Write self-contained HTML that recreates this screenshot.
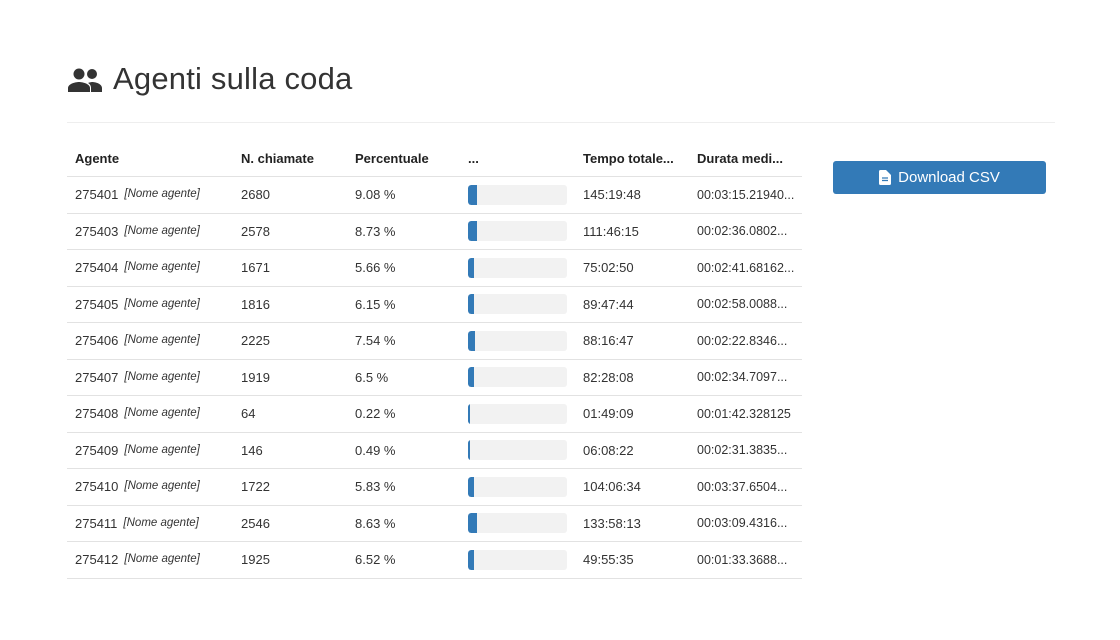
<!DOCTYPE html>
<html><head><meta charset="utf-8"><style>
body{margin:0;width:1120px;height:640px;background:#fff;font-family:"Liberation Sans",sans-serif;color:#333;position:relative;overflow:hidden}
.abs{position:absolute}
h1{position:absolute;left:113px;top:61px;margin:0;font-size:31px;font-weight:normal;color:#333;letter-spacing:0.2px}
.hr{left:67px;top:122px;width:988px;height:1px;background:#eee}
table{position:absolute;left:67px;top:140px;border-collapse:collapse;font-size:13px;table-layout:fixed;width:735px}
th{text-align:left;font-weight:bold;height:36px;padding:0 0 0 8px;color:#222;border-bottom:1px solid #e2e2e2;vertical-align:middle;white-space:nowrap;overflow:hidden}
td{height:35.5px;padding:0 0 0 8px;border-bottom:1px solid #e2e2e2;color:#333;white-space:nowrap;overflow:hidden;box-sizing:border-box}
tr{height:36.5px}
.nm{font-style:italic;font-size:11.5px;margin-left:6px;position:relative;top:-2px}
.bar{width:99px;height:20px;background:#f2f2f2;border-radius:3px;position:relative;overflow:hidden}
.fill{position:absolute;left:0;top:0;height:20px;background:#337ab7;border-radius:3px 0 0 3px}
.btn{left:833px;top:161px;width:213px;height:33px;background:#337ab7;border-radius:3px;color:#fff;font-size:15px;display:flex;align-items:center;justify-content:center;gap:7px}
</style></head><body>
<svg class="abs" style="left:67px;top:67px" width="36" height="26" viewBox="0 0 36 26"><circle cx="12" cy="7" r="5.5" fill="#333"/><circle cx="25" cy="7" r="5" fill="#333"/><path d="M1 25v-4c0-4 7-6 11-6s11 2 11 6v4z" fill="#333"/><path d="M24 25v-4c0-2-1-4-3-5 1-.5 3-1 4-1 4 0 10 2 10 6v4z" fill="#333"/></svg>
<h1>Agenti sulla coda</h1>
<div class="abs hr"></div>
<table>
<colgroup><col style="width:166px"><col style="width:114px"><col style="width:113px"><col style="width:115px"><col style="width:114px"><col style="width:113px"></colgroup>
<thead><tr>
<th>Agente</th>
<th>N. chiamate</th>
<th>Percentuale</th>
<th>...</th>
<th>Tempo totale...</th>
<th>Durata medi...</th>
</tr></thead>
<tbody id="tb"></tbody>
</table>
<div class="abs btn"><svg width="12" height="15" viewBox="0 0 12 15"><path d="M0 1.5A1.5 1.5 0 0 1 1.5 0H7l5 5v8.5a1.5 1.5 0 0 1-1.5 1.5h-9A1.5 1.5 0 0 1 0 13.5z" fill="#fff"/><path d="M3 8h6M3 10.5h6" stroke="#337ab7" stroke-width="1.2"/></svg>Download CSV</div>
<script>
const ids=["275401","275403","275404","275405","275406","275407","275408","275409","275410","275411","275412"];
const calls=[2680,2578,1671,1816,2225,1919,64,146,1722,2546,1925];
const pcts=[9.08,8.73,5.66,6.15,7.54,6.5,0.22,0.49,5.83,8.63,6.52];
const tempi=["145:19:48","111:46:15","75:02:50","89:47:44","88:16:47","82:28:08","01:49:09","06:08:22","104:06:34","133:58:13","49:55:35"];
const durate=["00:03:15.21940...","00:02:36.0802...","00:02:41.68162...","00:02:58.0088...","00:02:22.8346...","00:02:34.7097...","00:01:42.328125","00:02:31.3835...","00:03:37.6504...","00:03:09.4316...","00:01:33.3688..."];
const tb=document.getElementById('tb');
ids.forEach((id,i)=>{
const tr=document.createElement('tr');


const w=Math.max(1.5,pcts[i]/100*99);
tr.innerHTML=`<td>${id}<span class="nm">[Nome agente]</span></td><td>${calls[i]}</td><td>${pcts[i]} %</td><td><div class="bar"><div class="fill" style="width:${w}px"></div></div></td><td>${tempi[i]}</td><td style="font-size:12.5px">${durate[i]}</td>`;
tb.appendChild(tr);
});
</script>
</body></html>
